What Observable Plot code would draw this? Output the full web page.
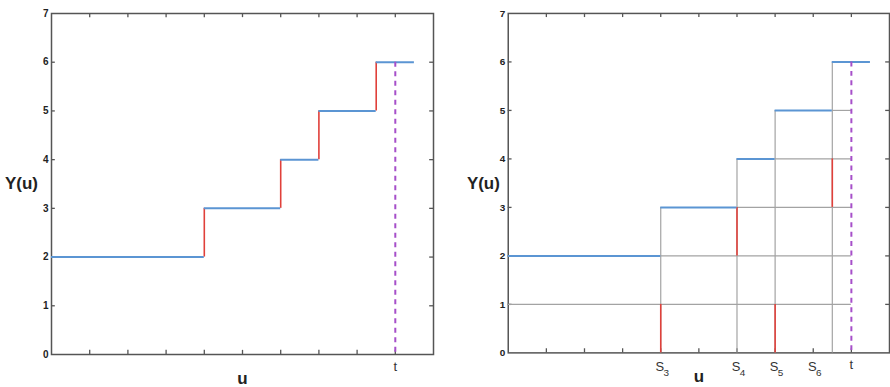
<!DOCTYPE html>
<html>
<head>
<meta charset="utf-8">
<script src="https://cdn.jsdelivr.net/npm/d3@7"></script>
<script src="https://cdn.jsdelivr.net/npm/@observablehq/plot@0.6"></script>
<style>
  html, body { margin: 0; padding: 0; background: #fff; }
  body { width: 890px; height: 387px; overflow: hidden; }
  #wrap { position: relative; width: 890px; height: 387px; overflow: hidden; }
  #left { position: absolute; left: 0; top: 0; }
  #right { position: absolute; left: 450px; top: 0; }
</style>
</head>
<body>
<div id="wrap"><div id="left"></div><div id="right"></div></div>
<script>
// ---- data ----
const xTicks = [0, 1, 2, 3, 4, 5, 6, 7, 8, 9, 10];
const yTicks = [0, 1, 2, 3, 4, 5, 6, 7];
const stepStart = [0, 4, 6, 7, 8.5];
const stepEnd   = [4, 6, 7, 8.5, 9.5];
const stepLevel = [2, 3, 4, 5, 6];
const tTime = 9;
// left panel: jumps of Y(u)
const jumpTime = [4, 6, 7, 8.5];
const jumpFrom = [2, 3, 4, 5];
const jumpTo   = [3, 4, 5, 6];
// right panel: grid of gray lines
const grayHLevel = [1, 2, 3, 4, 5];
const grayHStart = [0, 4, 6, 7, 8.5];
const grayVTime  = [4, 6, 7, 8.5];
const grayVTop   = [3, 4, 5, 6];
// right panel: red segments
const redTime = [4, 6, 7, 8.5];
const redLow  = [0, 2, 0, 3];
const redHigh = [1, 3, 1, 4];
// right panel: S labels
const sLabelPos = [4, 6, 7, 8];
const sLabelSub = ["3", "4", "5", "6"];

const steps = stepLevel.map((y, i) => ({y, x1: stepStart[i], x2: stepEnd[i]}));
const jumps = jumpTime.map((x, i) => ({x, y1: jumpFrom[i], y2: jumpTo[i]}));
const grayH = grayHLevel.map((y, i) => ({y, x1: grayHStart[i], x2: tTime}));
const grayV = grayVTime.map((x, i) => ({x, y1: 0, y2: grayVTop[i]}));
const reds = redTime.map((x, i) => ({x, y1: redLow[i], y2: redHigh[i]}));
const sLabels = sLabelPos.map((x, i) => ({x, sub: sLabelSub[i]}));

const BLUE = "#5b95d3", RED = "#e0403a", PURPLE = "#a64fc9", GRAY = "#a3a3a3", FRAME = "#555";
const FONT = "'Liberation Sans', Arial, sans-serif";
const innerX = xTicks.slice(1, -1);
const innerY = yTicks.slice(1, -1);

function commonMarks(yLabelDx) {
  return [
    Plot.frame({stroke: FRAME, strokeWidth: 1.5}),
    Plot.ruleX(innerX, {x: d => d, y1: 0, y2: 0.085, stroke: FRAME, strokeWidth: 1.3}),
    Plot.ruleX(innerX, {x: d => d, y1: 7, y2: 6.915, stroke: FRAME, strokeWidth: 1.3}),
    Plot.ruleY(innerY, {y: d => d, x1: 0, x2: 0.1, stroke: FRAME, strokeWidth: 1.3}),
    Plot.ruleY(innerY, {y: d => d, x1: 10, x2: 9.9, stroke: FRAME, strokeWidth: 1.3}),
    Plot.axisY(yTicks, {tickSize: 0, tickPadding: 3, fontWeight: "bold", fontSize: 10, label: null, fill: "#222"}),
    Plot.text(["Y(u)"], {x: 0, y: 3.5, text: d => d, dx: yLabelDx, fontSize: 17, fontWeight: "bold", fill: "#222"}),
    Plot.text(["u"], {x: 5, y: 0, text: d => d, dy: 24, fontSize: 17, fontWeight: "bold", fill: "#222"}),
    Plot.text(["t"], {x: tTime, y: 0, text: d => d, dy: 12.5, fontSize: 13, fill: "#333"})
  ];
}

const left = Plot.plot({
  width: 450, height: 387,
  marginLeft: 51, marginRight: 17, marginTop: 13, marginBottom: 33,
  x: {domain: [0, 10], axis: null},
  y: {domain: [0, 7], axis: null},
  style: {fontFamily: FONT, background: "white", overflow: "visible"},
  marks: [
    ...commonMarks(-30),
    Plot.ruleX(jumps, {x: "x", y1: "y1", y2: "y2", stroke: RED, strokeWidth: 1.6}),
    Plot.ruleY(steps, {y: "y", x1: "x1", x2: "x2", stroke: BLUE, strokeWidth: 2}),
    Plot.ruleX([tTime], {x: d => d, y1: 6, y2: 0, stroke: PURPLE, strokeWidth: 2, strokeDasharray: "5,4.5"})
  ]
});
document.getElementById("left").append(left);

const right = Plot.plot({
  width: 442, height: 387,
  marginLeft: 58, marginRight: 1, marginTop: 13, marginBottom: 33,
  x: {domain: [0, 10], axis: null},
  y: {domain: [0, 7], axis: null},
  style: {fontFamily: FONT, background: "white", overflow: "visible"},
  marks: [
    ...commonMarks(-25),
    Plot.ruleY(grayH, {y: "y", x1: "x1", x2: "x2", stroke: GRAY, strokeWidth: 1.2}),
    Plot.ruleX(grayV, {x: "x", y1: "y1", y2: "y2", stroke: GRAY, strokeWidth: 1.2}),
    Plot.ruleX(reds, {x: "x", y1: "y1", y2: "y2", stroke: RED, strokeWidth: 1.6}),
    Plot.ruleY(steps, {y: "y", x1: "x1", x2: "x2", stroke: BLUE, strokeWidth: 2}),
    Plot.ruleX([tTime], {x: d => d, y1: 6, y2: 0, stroke: PURPLE, strokeWidth: 2, strokeDasharray: "5,4.5"}),
    Plot.text(sLabels, {x: "x", y: 0, text: () => "S", dx: -1, dy: 14, fontSize: 13, fill: "#333"}),
    Plot.text(sLabels, {x: "x", y: 0, text: "sub", dx: 5.5, dy: 20, fontSize: 10, fill: "#333"})
  ]
});
document.getElementById("right").append(right);
</script>
</body>
</html>
